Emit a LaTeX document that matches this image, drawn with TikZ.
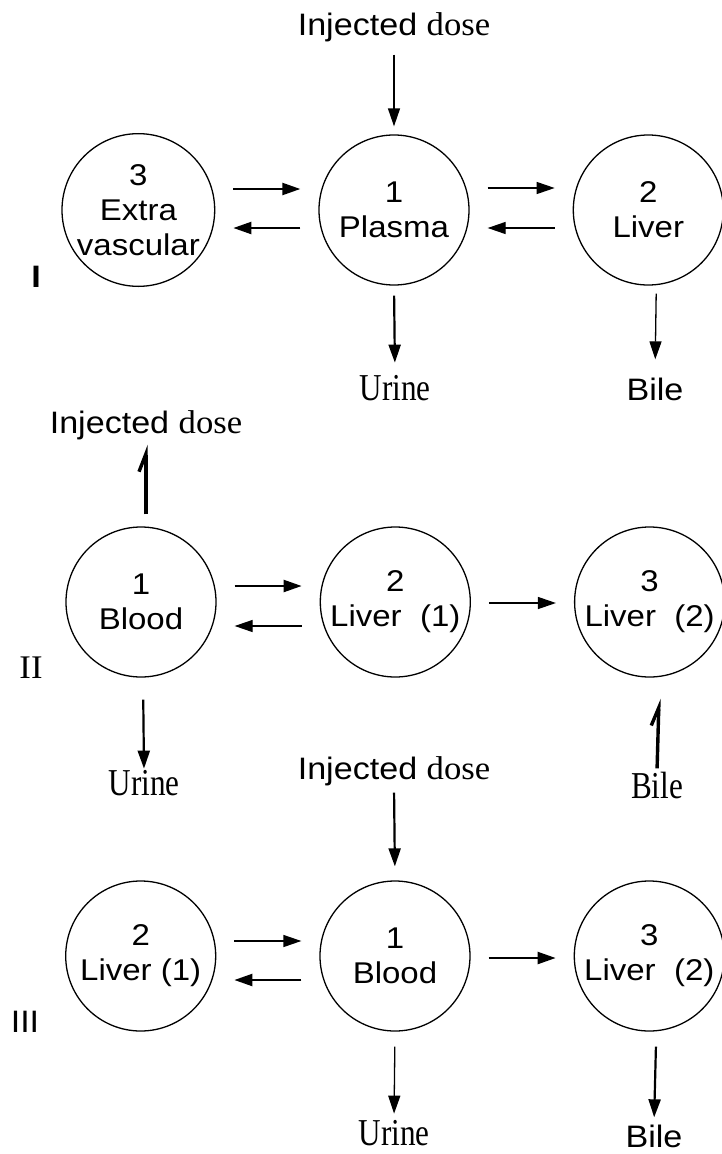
\documentclass[tikz,border=0pt]{standalone}
\usepackage{fontspec}
\newfontfamily\helv[FakeStretch=1.1]{Liberation Sans}
\newfontfamily\tms[FakeStretch=1.05]{Liberation Serif}
\newfontfamily\tmsc[FakeStretch=0.82]{Liberation Serif}
\usetikzlibrary{arrows.meta,positioning}

\begin{document}
\begin{tikzpicture}[
    x=1pt, y=-1pt,
    node distance=103pt,
    comp/.style={circle, draw, line width=1.3pt, minimum size=150pt, inner sep=0pt, align=center, font=\helv\fontsize{30}{35}\selectfont},
    lbl/.style={inner sep=0pt, anchor=base, font=\fontsize{31}{35}\selectfont},
    sink/.style={lbl, font=\tmsc\fontsize{38}{40}\selectfont},
    arrow/.style={-{Triangle[length=18pt,width=12pt]}, line width=2.2pt},
    thinarrow/.style={-{Triangle[length=18pt,width=12pt]}, line width=1.3pt},
    hookline/.style={-{Straight Barb[left,length=18pt,width=14pt]}, line width=3.4pt},
    gap/.style={shorten <=18pt, shorten >=18pt}
]
    \useasboundingbox (0,0) rectangle (722,1154);

    % Model I
    \node[comp] (plasma) at (394,210) {1\\Plasma};
    \node[comp, left=of plasma] (extra) {3\\Extra\\vascular};
    \node[comp, right=of plasma] (liver) {2\\Liver};
    \node[lbl] (dose1) at (394,35) {\helv Injected {\tms\fontsize{33}{35}\selectfont dose}};
    \node[sink] (urine1) at (395,400) {Urine};
    \node[lbl] (bile1) at (655,400) {\helv Bile};
    \node[lbl] (tagI) at (36,287) {\helv\bfseries I};

    \draw[thinarrow, shorten <=13pt, shorten >=8pt] (dose1.south) -- (plasma.north);
    \draw[arrow, gap] ([yshift=21pt]extra.east) -- ([yshift=21pt]plasma.west);
    \draw[arrow, gap] ([yshift=-18pt]plasma.west) -- ([yshift=-18pt]extra.east);
    \draw[thinarrow, gap] ([yshift=22pt]plasma.east) -- ([yshift=22pt]liver.west);
    \draw[thinarrow, gap] ([yshift=-18pt]liver.west) -- ([yshift=-18pt]plasma.east);
    \draw[arrow, shorten <=10pt, shorten >=12pt] (plasma.south) -- (urine1.north);
    \draw[thinarrow, shorten <=8pt, shorten >=18pt] ([xshift=8pt]liver.south) -- (bile1.north);

    % Model II
    \node[comp] (blood) at (141,602) {1\\Blood};
    \node[comp, right=of blood] (liverA) {2\\Liver~~(1)};
    \node[comp, right=of liverA] (liverB) {3\\Liver~~(2)};
    \node[lbl] (dose2) at (146,433) {\helv Injected {\tms\fontsize{33}{35}\selectfont dose}};
    \node[sink] (urine2) at (144,795) {Urine};
    \node[sink] (bile2) at (657,798) {Bile};
    \node[lbl] (tagII) at (31,678) {\tms\fontsize{33}{35}\selectfont II};

    \draw[hookline, shorten <=12pt, shorten >=5pt] ([xshift=5pt]blood.north) -- (dose2.south);
    \draw[arrow, gap] ([yshift=16pt]blood.east) -- ([yshift=16pt]liverA.west);
    \draw[thinarrow, gap] ([yshift=-24pt]liverA.west) -- ([yshift=-24pt]blood.east);
    \draw[thinarrow, gap] ([yshift=-1pt]liverA.east) -- ([yshift=-1pt]liverB.west);
    \draw[arrow, shorten <=22pt, shorten >=1pt] ([xshift=2pt]blood.south) -- (urine2.north);
    \draw[hookline, shorten <=3pt, shorten >=21pt] (bile2.north) -- ([xshift=10pt]liverB.south);

    % Model III
    \node[comp] (blood3) at (395,956) {1\\Blood};
    \node[comp, left=of blood3] (liverC) {2\\Liver (1)};
    \node[comp, right=of blood3] (liverD) {3\\Liver~~(2)};
    \node[lbl] (dose3) at (394,779) {\helv Injected {\tms\fontsize{33}{35}\selectfont dose}};
    \node[sink] (urine3) at (394,1145) {Urine};
    \node[lbl] (bile3) at (654,1147) {\helv Bile};
    \node[lbl] (tagIII) at (25,1032) {\helv III};

    \draw[arrow, shorten <=7pt, shorten >=14pt] (dose3.south) -- (blood3.north);
    \draw[thinarrow, gap] ([yshift=15pt]liverC.east) -- ([yshift=15pt]blood3.west);
    \draw[arrow, gap] ([yshift=-24pt]blood3.west) -- ([yshift=-24pt]liverC.east);
    \draw[arrow, gap] ([yshift=-2pt]blood3.east) -- ([yshift=-2pt]liverD.west);
    \draw[thinarrow, shorten <=15pt, shorten >=6pt] (blood3.south) -- (urine3.north);
    \draw[arrow, shorten <=15pt, shorten >=7pt] ([xshift=7pt]liverD.south) -- (bile3.north);

\end{tikzpicture}
\end{document}
